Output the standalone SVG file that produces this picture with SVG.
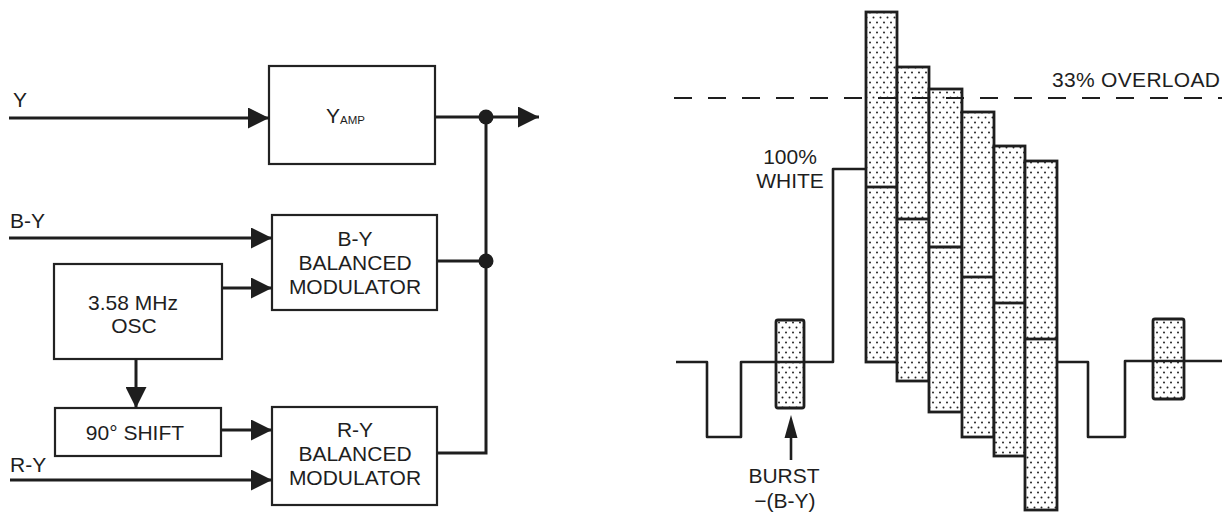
<svg xmlns="http://www.w3.org/2000/svg" width="1225" height="514" viewBox="0 0 1225 514">
<style>
text{font-family:"Liberation Sans",Arial,Helvetica,sans-serif;fill:#1e1e1e;font-size:21px}
.c{text-anchor:middle}
.box{fill:#fff;stroke:#222;stroke-width:2.2}
.wire{fill:none;stroke:#1e1e1e;stroke-width:3}
.wave{fill:none;stroke:#1e1e1e;stroke-width:2.6;stroke-linejoin:round}
.bar{fill:url(#dots);stroke:#1e1e1e;stroke-width:2.8}
.lum{stroke:#1e1e1e;stroke-width:2.8}
</style>
<defs>
<marker id="ah" markerUnits="userSpaceOnUse" markerWidth="21" markerHeight="21" viewBox="0 0 20 20" refX="20" refY="10" orient="auto">
<path d="M0,0 L20,10 L0,20 z" fill="#1e1e1e"/>
</marker>
<pattern id="dots" patternUnits="userSpaceOnUse" width="7" height="10">
<rect width="7" height="10" fill="#fff"/>
<circle cx="2" cy="2.5" r="1" fill="#222"/>
<circle cx="5.5" cy="7.5" r="1" fill="#222"/>
</pattern>
</defs>

<g id="label-y"><text x="13" y="107" font-size="21.5">Y</text></g>
<g id="label-by"><text x="10" y="228">B-Y</text></g>
<g id="label-ry"><text x="10" y="472">R-Y</text></g>

<g id="y-amp">
<rect class="box" x="269" y="66" width="166" height="98"/>
<text x="326" y="123" font-size="23">Y<tspan font-size="11.5" dy="1">AMP</tspan></text>
</g>

<g id="by-mod">
<rect class="box" x="272" y="215" width="165" height="95"/>
<text class="c" x="355" y="246">B-Y</text>
<text class="c" x="355" y="270">BALANCED</text>
<text class="c" x="355" y="294">MODULATOR</text>
</g>

<g id="osc">
<rect class="box" x="54" y="264" width="168" height="95"/>
<text class="c" x="133" y="310">3.58 MHz</text>
<text class="c" x="134" y="333">OSC</text>
</g>

<g id="shift">
<rect class="box" x="55" y="408" width="166" height="48"/>
<text class="c" x="135" y="440">90° SHIFT</text>
</g>

<g id="ry-mod">
<rect class="box" x="272" y="407" width="165" height="98"/>
<text class="c" x="355" y="437">R-Y</text>
<text class="c" x="355" y="461">BALANCED</text>
<text class="c" x="355" y="485">MODULATOR</text>
</g>

<g id="connectors">
<line class="wire" x1="9" y1="118" x2="269" y2="118" marker-end="url(#ah)"/>
<line class="wire" x1="435" y1="117" x2="539" y2="117" marker-end="url(#ah)"/>
<line class="wire" x1="9" y1="238" x2="272" y2="238" marker-end="url(#ah)"/>
<line class="wire" x1="222" y1="288" x2="272" y2="288" marker-end="url(#ah)"/>
<line class="wire" x1="136" y1="359" x2="136" y2="408" marker-end="url(#ah)"/>
<line class="wire" x1="221" y1="430" x2="272" y2="430" marker-end="url(#ah)"/>
<line class="wire" x1="10" y1="480" x2="272" y2="480" marker-end="url(#ah)"/>
<polyline class="wire" points="437,261 486,261"/>
<polyline class="wire" points="437,453 486,453 486,117"/>
<circle cx="486" cy="117" r="7.5" fill="#1e1e1e"/>
<circle cx="486" cy="261" r="7.5" fill="#1e1e1e"/>
</g>

<g id="waveform">
<rect class="bar" x="776" y="320" width="28" height="88" rx="2"/>
<rect class="bar" x="1153" y="319" width="31" height="80" rx="2"/>
<path class="wave" d="M676,362 H707 V437 H741 V362 H833 V169 H866"/>
<path class="wave" d="M1057,362 H1088 V437 H1125 V361 H1222"/>
<rect class="bar" x="866" y="12" width="31" height="350"/>
<rect class="bar" x="897" y="67" width="32" height="314"/>
<rect class="bar" x="929" y="89" width="33" height="323"/>
<rect class="bar" x="962" y="112" width="32" height="325"/>
<rect class="bar" x="994" y="146" width="31" height="310"/>
<rect class="bar" x="1025" y="161" width="32" height="349"/>
<line class="lum" x1="866" y1="187" x2="897" y2="187"/>
<line class="lum" x1="897" y1="219" x2="929" y2="219"/>
<line class="lum" x1="929" y1="247" x2="962" y2="247"/>
<line class="lum" x1="962" y1="277" x2="994" y2="277"/>
<line class="lum" x1="994" y1="303" x2="1025" y2="303"/>
<line class="lum" x1="1025" y1="339" x2="1057" y2="339"/>
<line x1="674" y1="98" x2="1222" y2="98" stroke="#1e1e1e" stroke-width="2" stroke-dasharray="18 16"/>
<line x1="791" y1="460" x2="791" y2="435" stroke="#1e1e1e" stroke-width="2.6"/>
<polygon points="791,415 784.5,438 797.5,438" fill="#1e1e1e"/>
<text x="1220" y="87" text-anchor="end" font-size="20" textLength="168">33% OVERLOAD</text>
<text class="c" x="790" y="164" font-size="20">100%</text>
<text class="c" x="790" y="188" font-size="20">WHITE</text>
<text class="c" x="784" y="483" font-size="20">BURST</text>
<text class="c" x="785" y="508" font-size="20">−(B-Y)</text>
</g>
</svg>
